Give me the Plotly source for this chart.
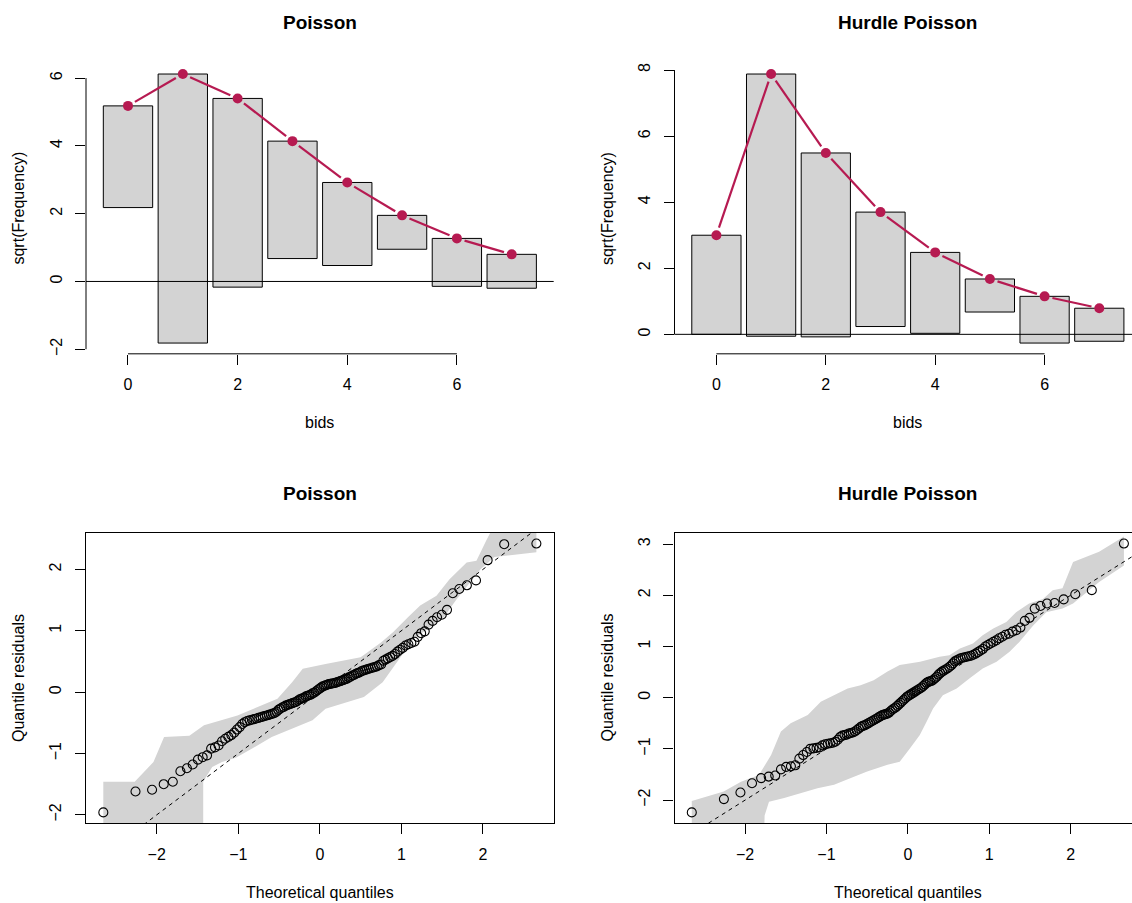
import math
from statistics import NormalDist
import plotly.graph_objects as go

W, H = 1132, 903
FONT = "Liberation Sans, Arial, Helvetica, sans-serif"
RED = "#B61A51"
GRAY = "#D3D3D3"

# ---------------- rootogram data ----------------
bids = [0, 1, 2, 3, 4, 5, 6, 7]
observed = [9, 63, 31, 12, 6, 1, 2, 1]
expected_sqrt_pois = [5.18, 6.12, 5.40, 4.14, 2.92, 1.95, 1.27, 0.80]
expected_sqrt_hurdle = [3.00, 7.88, 5.49, 3.70, 2.48, 1.675, 1.15, 0.79]
bar_width = 0.9

# ---------------- quantile residuals (sorted) ----------------
resid_pois = [
    -1.96, -1.62, -1.59, -1.50, -1.46, -1.29, -1.24, -1.18, -1.10, -1.06,
    -1.03, -0.92, -0.90, -0.87, -0.80, -0.76, -0.73, -0.70, -0.66, -0.61,
    -0.57, -0.52, -0.49, -0.47, -0.46, -0.45, -0.44, -0.43, -0.42, -0.41,
    -0.40, -0.39, -0.38, -0.37, -0.36, -0.35, -0.34, -0.32, -0.29, -0.27,
    -0.25, -0.24, -0.22, -0.21, -0.20, -0.19, -0.18, -0.17, -0.16, -0.14,
    -0.12, -0.11, -0.10, -0.09, -0.07, -0.06, -0.05, -0.04, -0.02, -0.01,
    0.01, 0.03, 0.05, 0.07, 0.09, 0.10, 0.11, 0.12, 0.13, 0.135,
    0.14, 0.145, 0.15, 0.16, 0.17, 0.18, 0.19, 0.20, 0.21, 0.22,
    0.24, 0.25, 0.27, 0.28, 0.30, 0.31, 0.32, 0.34, 0.35, 0.36,
    0.37, 0.38, 0.39, 0.40, 0.41, 0.42, 0.44, 0.45, 0.51, 0.53,
    0.55, 0.57, 0.59, 0.62, 0.66, 0.69, 0.72, 0.76, 0.78, 0.80,
    0.82, 0.90, 0.96, 0.99, 1.10, 1.16, 1.22, 1.26, 1.34, 1.61,
    1.68, 1.74, 1.82, 2.15, 2.41, 2.42,
]
resid_hurdle = [
    -2.24, -1.98, -1.85, -1.67, -1.57, -1.54, -1.52, -1.40, -1.35, -1.34,
    -1.32, -1.19, -1.12, -1.06, -1.00, -0.99, -0.98, -0.97, -0.93, -0.91,
    -0.90, -0.89, -0.88, -0.86, -0.82, -0.77, -0.74, -0.73, -0.72, -0.70,
    -0.69, -0.68, -0.66, -0.63, -0.60, -0.57, -0.55, -0.54, -0.52, -0.50,
    -0.48, -0.46, -0.44, -0.42, -0.40, -0.38, -0.36, -0.34, -0.33, -0.32,
    -0.31, -0.29, -0.26, -0.23, -0.21, -0.19, -0.16, -0.13, -0.10, -0.07,
    -0.04, -0.01, 0.02, 0.04, 0.06, 0.08, 0.10, 0.12, 0.14, 0.16,
    0.18, 0.20, 0.23, 0.26, 0.29, 0.31, 0.32, 0.33, 0.35, 0.38,
    0.41, 0.45, 0.48, 0.51, 0.53, 0.55, 0.57, 0.60, 0.63, 0.67,
    0.71, 0.73, 0.75, 0.77, 0.78, 0.79, 0.80, 0.81, 0.82, 0.84,
    0.86, 0.89, 0.92, 0.95, 1.00, 1.03, 1.06, 1.09, 1.12, 1.16,
    1.19, 1.23, 1.25, 1.29, 1.32, 1.37, 1.50, 1.56, 1.74, 1.79,
    1.84, 1.85, 1.92, 2.02, 2.10, 3.01,
]

# ---------------- simulation envelopes ----------------
env_pois_upper_x = [-2.655, -2.27, -2.04, -1.91, -1.60, -1.42, -1.01, -0.52, -0.34, -0.21,
                    0.07, 0.28, 0.50, 0.75, 0.90, 1.08, 1.23, 1.43, 1.59, 1.80, 1.92,
                    2.04, 2.15, 2.655]
env_pois_upper_y = [-1.46, -1.46, -1.14, -0.73, -0.71, -0.54, -0.38, -0.11, 0.16, 0.38,
                    0.46, 0.51, 0.57, 0.81, 0.98, 1.22, 1.41, 1.57, 1.84, 2.11, 2.14,
                    2.47, 2.75, 2.75]
env_pois_lower_x = [-2.655, -1.43, -1.43, -1.32, -1.20, -1.03, -0.83, -0.59, -0.34, -0.09,
                    0.07, 0.30, 0.54, 0.77, 0.95, 1.15, 1.52, 1.67, 1.97, 2.14, 2.655]
env_pois_lower_y = [-2.60, -2.60, -1.46, -1.22, -1.14, -1.07, -0.92, -0.73, -0.60, -0.46,
                    -0.27, -0.18, -0.08, 0.16, 0.50, 0.87, 1.22, 1.50, 2.00, 2.20, 2.28]

env_hurdle_upper_x = [-2.655, -2.263, -2.05, -1.83, -1.68, -1.56, -1.44, -1.23, -1.07, -0.91,
                      -0.74, -0.58, -0.42, -0.25, -0.10, 0.15, 0.39, 0.51, 0.64, 0.80,
                      0.92, 1.05, 1.21, 1.33, 1.49, 1.66, 1.78, 1.90, 2.03, 2.35, 2.655]
env_hurdle_upper_y = [-2.015, -1.83, -1.64, -1.51, -1.12, -0.66, -0.50, -0.34, -0.08, 0.05,
                      0.18, 0.245, 0.34, 0.51, 0.64, 0.70, 0.80, 0.83, 0.96, 1.06,
                      1.22, 1.35, 1.48, 1.67, 1.84, 1.93, 2.10, 2.14, 2.65, 2.85, 3.15]
env_hurdle_lower_x = [-2.655, -1.77, -1.76, -1.706, -1.52, -1.31, -1.11, -0.907, -0.70, -0.50,
                      -0.25, -0.10, 0.025, 0.147, 0.23, 0.31, 0.43, 0.60, 0.76, 0.92,
                      1.09, 1.25, 1.37, 1.54, 1.70, 1.90, 2.03, 2.35, 2.655]
env_hurdle_lower_y = [-3.00, -3.00, -2.30, -2.03, -1.96, -1.87, -1.77, -1.70, -1.57, -1.44,
                      -1.31, -1.25, -0.99, -0.73, -0.47, -0.21, 0.05, 0.18, 0.38, 0.57,
                      0.70, 0.90, 1.09, 1.41, 1.67, 1.74, 1.84, 2.26, 2.58]

# ---------------- panel geometry (pixels) ----------------
COL_LEFT = (86.0, 553.7)
COL_RIGHT = (674.5, 1141.2)     # right column runs past the page edge
ROW_TOP = (63.4, 354.6)
ROW_BOTTOM = (534.0, 825.0)


def extend(lo, hi, f=0.04):
    d = hi - lo
    return [lo - f * d, hi + f * d]


def x_domain_and_range(col, rng):
    p0, p1 = col
    vis1 = min(p1, W)
    frac = (vis1 - p0) / (p1 - p0)
    return [p0 / W, vis1 / W], [rng[0], rng[0] + (rng[1] - rng[0]) * frac]


def y_domain(row):
    return [1 - row[1] / H, 1 - row[0] / H]


def axis_ids(k):
    s = "" if k == 1 else str(k)
    return f"x{s}", f"y{s}", f"xaxis{s}", f"yaxis{s}"


fig = go.Figure()
annotations = []
shapes = []
layout_axes = {}

tick_font = dict(family=FONT, size=16, color="black")


def add_text(x, y, text, size=16, bold=False, angle=0):
    annotations.append(dict(
        x=x / W, y=1 - y / H, xref="paper", yref="paper",
        text=f"<b>{text}</b>" if bold else text,
        showarrow=False, xanchor="center", yanchor="middle", textangle=angle,
        font=dict(family=FONT, size=size, color="black")))


def rootogram(k, col, row, expected, yticks, title):
    xa, ya, xkey, ykey = axis_ids(k)
    heights = [math.sqrt(o) for o in observed]
    bottoms = [e - h for e, h in zip(expected, heights)]
    xr_full = extend(min(bids) - bar_width / 2, max(bids) + bar_width / 2)
    yr = extend(min(bottoms), max(expected))
    xdom, xr = x_domain_and_range(col, xr_full)
    ydom = y_domain(row)

    fig.add_trace(go.Bar(x=bids, y=heights, base=bottoms, width=bar_width,
                         marker=dict(color=GRAY, line=dict(color="black", width=1)),
                         xaxis=xa, yaxis=ya, showlegend=False))

    # connecting line with small gaps around each point
    sx = (col[1] - col[0]) / (xr_full[1] - xr_full[0])
    sy = (row[1] - row[0]) / (yr[1] - yr[0])
    gap = 8.0
    lx, ly = [], []
    for i in range(len(bids) - 1):
        dxp = (bids[i + 1] - bids[i]) * sx
        dyp = (expected[i + 1] - expected[i]) * sy
        L = math.hypot(dxp, dyp)
        if L <= 2 * gap:
            continue
        for t in (gap / L, 1 - gap / L):
            lx.append(bids[i] + t * (bids[i + 1] - bids[i]))
            ly.append(expected[i] + t * (expected[i + 1] - expected[i]))
        lx.append(None)
        ly.append(None)
    fig.add_trace(go.Scatter(x=lx, y=ly, mode="lines", line=dict(color=RED, width=2.2),
                             xaxis=xa, yaxis=ya, showlegend=False, hoverinfo="skip"))
    fig.add_trace(go.Scatter(x=bids, y=expected, mode="markers",
                             marker=dict(color=RED, size=10, line=dict(width=0)),
                             xaxis=xa, yaxis=ya, showlegend=False))

    xticks = [b for b in bids if b % 2 == 0]
    layout_axes[xkey] = dict(domain=xdom, range=xr, anchor=ya, tickvals=xticks,
                             ticks="outside", ticklen=10, tickcolor="black", tickwidth=1,
                             showline=False, showgrid=False, zeroline=False,
                             tickfont=tick_font, ticklabelstandoff=6, fixedrange=True)
    layout_axes[ykey] = dict(domain=ydom, range=yr, anchor=xa, tickvals=yticks,
                             ticks="outside", ticklen=10, tickcolor="black", tickwidth=1,
                             tickangle=-90, showline=False, showgrid=False, zeroline=False,
                             tickfont=tick_font, ticklabelstandoff=7, fixedrange=True)
    # axis lines spanning first to last tick
    shapes.append(dict(type="line", xref=xa, yref=f"{ya} domain", x0=xticks[0], x1=xticks[-1],
                       y0=0, y1=0, line=dict(color="black", width=1)))
    shapes.append(dict(type="line", xref=f"{xa} domain", yref=ya, x0=0, x1=0,
                       y0=yticks[0], y1=yticks[-1], line=dict(color="black", width=1)))
    # reference line at zero
    shapes.append(dict(type="line", xref=f"{xa} domain", yref=ya, x0=0, x1=1, y0=0, y1=0,
                       line=dict(color="black", width=1)))

    cx = (col[0] + col[1]) / 2
    add_text(cx, 23, title, size=19, bold=True)
    add_text(cx, 423, "bids")
    add_text(col[0] - 67, (row[0] + row[1]) / 2, "sqrt(Frequency)", angle=-90)


def qqplot(k, col, row, resid, ux, uy, lx_, ly_, yticks, title, right_open):
    xa, ya, xkey, ykey = axis_ids(k)
    n = len(resid)
    nd = NormalDist()
    theo = [nd.inv_cdf((i + 0.5) / n) for i in range(n)]
    xr_full = extend(min(theo), max(theo))
    yr = extend(min(resid), max(resid))
    xdom, xr = x_domain_and_range(col, xr_full)
    ydom = y_domain(row)

    fig.add_trace(go.Scatter(x=ux + lx_[::-1], y=uy + ly_[::-1], mode="lines", fill="toself",
                             fillcolor=GRAY, line=dict(width=0, color=GRAY),
                             xaxis=xa, yaxis=ya, showlegend=False, hoverinfo="skip"))
    fig.add_trace(go.Scatter(x=xr_full, y=xr_full, mode="lines",
                             line=dict(color="black", width=1, dash="4px,4px"),
                             xaxis=xa, yaxis=ya, showlegend=False, hoverinfo="skip"))
    fig.add_trace(go.Scatter(x=theo, y=resid, mode="markers",
                             marker=dict(symbol="circle-open", size=9, color="black",
                                         line=dict(width=1.1, color="black")),
                             xaxis=xa, yaxis=ya, showlegend=False, cliponaxis=False))

    layout_axes[xkey] = dict(domain=xdom, range=xr, anchor=ya, tickvals=[-2, -1, 0, 1, 2],
                             ticks="outside", ticklen=10, tickcolor="black", tickwidth=1,
                             showline=True, linecolor="black", linewidth=1.4, mirror=True,
                             showgrid=False, zeroline=False, tickfont=tick_font,
                             ticklabelstandoff=6, fixedrange=True)
    layout_axes[ykey] = dict(domain=ydom, range=yr, anchor=xa, tickvals=yticks,
                             ticks="outside", ticklen=10, tickcolor="black", tickwidth=1,
                             tickangle=-90, showline=True, linecolor="black", linewidth=1.4,
                             mirror=(not right_open), showgrid=False, zeroline=False,
                             tickfont=tick_font, ticklabelstandoff=7, fixedrange=True)

    cx = (col[0] + col[1]) / 2
    add_text(cx, 495, title, size=19, bold=True)
    add_text(cx, 894, "Theoretical quantiles")
    add_text(col[0] - 67, (row[0] + row[1]) / 2, "Quantile residuals", angle=-90)


rootogram(1, COL_LEFT, ROW_TOP, expected_sqrt_pois, [-2, 0, 2, 4, 6], "Poisson")
rootogram(2, COL_RIGHT, ROW_TOP, expected_sqrt_hurdle, [0, 2, 4, 6, 8], "Hurdle Poisson")
qqplot(3, COL_LEFT, ROW_BOTTOM, resid_pois, env_pois_upper_x, env_pois_upper_y,
       env_pois_lower_x, env_pois_lower_y, [-2, -1, 0, 1, 2], "Poisson", False)
qqplot(4, COL_RIGHT, ROW_BOTTOM, resid_hurdle, env_hurdle_upper_x, env_hurdle_upper_y,
       env_hurdle_lower_x, env_hurdle_lower_y, [-2, -1, 0, 1, 2, 3], "Hurdle Poisson", True)

fig.update_layout(
    width=W, height=H, margin=dict(l=0, r=0, t=0, b=0),
    paper_bgcolor="white", plot_bgcolor="white",
    showlegend=False, annotations=annotations, shapes=shapes,
    font=dict(family=FONT, color="black"),
    **layout_axes,
)

fig.write_html("out.html", config={"displayModeBar": False})
